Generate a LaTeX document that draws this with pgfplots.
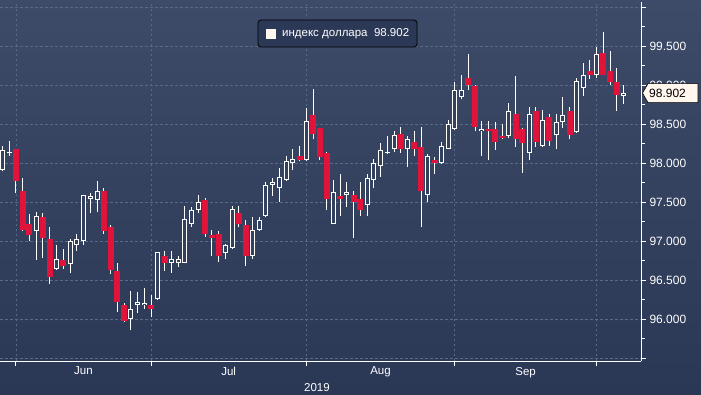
\documentclass[border=0pt]{standalone}
\usepackage{fontspec}
\setmainfont{Liberation Sans}
\usepackage{pgfplots}
\usepackage{pgfplotstable}
\pgfplotsset{compat=1.18}
\definecolor{bgtop}{RGB}{61,75,104}
\definecolor{bgbot}{RGB}{42,56,86}
\definecolor{bgmid}{RGB}{51,65,95}
\definecolor{candred}{RGB}{224,20,58}
\definecolor{gridc}{RGB}{86,106,138}
\definecolor{cream}{RGB}{255,246,238}
\definecolor{legbg}{RGB}{44,57,86}

% up (white) candles: index open high low close
\pgfplotstableread{
i o h l c
0 97.92 98.22 97.90 98.17
1 98.13 98.29 98.10 98.15
5 97.13 97.38 96.76 97.33
8 96.65 96.95 96.63 96.77
10 96.71 97.03 96.59 97.01
11 96.95 97.09 96.88 97.03
12 97.01 97.60 96.95 97.59
13 97.54 97.62 97.36 97.58
14 97.53 97.78 97.38 97.65
19 96.00 96.37 95.86 96.14
20 96.18 96.35 96.08 96.22
21 96.18 96.40 96.14 96.21
23 96.26 96.87 96.25 96.86
25 96.73 96.88 96.60 96.78
26 96.72 96.82 96.67 96.78
27 96.73 97.46 96.72 97.29
28 97.23 97.44 97.18 97.40
29 97.40 97.60 97.37 97.50
33 96.85 96.97 96.77 96.95
34 96.91 97.45 96.90 97.41
37 96.82 97.31 96.77 97.15
38 97.15 97.31 97.14 97.27
39 97.33 97.76 97.31 97.72
40 97.73 97.82 97.58 97.76
41 97.68 97.94 97.51 97.83
42 97.79 98.10 97.77 98.03
43 98.01 98.18 97.91 98.06
45 98.04 98.71 98.03 98.54
49 97.23 97.79 97.22 97.64
51 97.59 97.76 97.44 97.63
54 97.47 97.86 97.33 97.82
55 97.79 98.06 97.68 98.00
56 97.97 98.26 97.83 98.17
57 98.13 98.35 98.12 98.15
58 98.18 98.41 98.15 98.36
60 98.18 98.35 97.96 98.31
63 97.60 98.12 97.50 98.10
65 98.00 98.28 97.99 98.23
66 98.19 98.56 98.18 98.51
67 98.44 99.04 98.43 98.94
68 98.85 99.14 98.82 98.94
71 98.41 98.55 98.10 98.44
75 98.35 98.78 98.32 98.67
78 98.14 98.73 98.05 98.63
80 98.22 98.69 98.21 98.56
82 98.36 98.64 98.18 98.53
83 98.53 98.85 98.46 98.62
85 98.40 99.10 98.39 99.06
86 98.97 99.29 98.87 99.14
88 99.14 99.49 99.09 99.40
92 98.87 99.01 98.76 98.902
}\upT

% down (red) candles: index open high low close
\pgfplotstableread{
i o h l c
2 98.18 98.19 97.62 97.77
3 97.65 97.82 97.13 97.15
4 97.22 97.35 97.00 97.08
6 97.31 97.36 96.79 97.04
7 97.03 97.19 96.46 96.55
9 96.76 96.90 96.65 96.69
15 97.65 97.69 97.10 97.13
16 97.19 97.21 96.58 96.64
17 96.62 96.72 96.10 96.23
18 96.19 96.21 95.97 95.98
22 96.19 96.31 96.03 96.13
24 96.82 96.88 96.62 96.72
30 97.53 97.56 97.06 97.10
31 97.08 97.15 96.82 97.05
32 97.09 97.13 96.74 96.81
35 97.37 97.46 97.18 97.22
36 97.21 97.27 96.69 96.81
44 98.10 98.22 98.03 98.05
46 98.62 98.95 98.31 98.38
47 98.45 98.46 98.05 98.08
48 98.13 98.15 97.40 97.54
50 97.58 97.87 97.33 97.54
52 97.59 97.65 97.04 97.50
53 97.55 97.76 97.33 97.40
59 98.38 98.47 98.14 98.19
61 98.27 98.41 98.10 98.18
62 98.21 98.47 97.18 97.65
64 98.05 98.08 97.87 98.00
69 99.10 99.40 98.94 99.01
70 98.99 99.00 98.42 98.47
72 98.44 98.54 98.04 98.41
73 98.44 98.53 98.17 98.28
74 98.35 98.50 98.31 98.32
76 98.64 99.12 98.21 98.31
77 98.44 98.45 97.88 98.26
79 98.67 98.73 98.21 98.28
81 98.59 98.64 98.23 98.29
84 98.67 98.73 98.31 98.36
87 99.19 99.33 99.08 99.13
89 99.42 99.69 99.13 99.14
90 99.19 99.44 99.00 99.04
91 99.05 99.22 98.67 98.88
}\dnT

\pgfplotsset{
  candle/.style={only marks, mark=*, mark size=0pt,
    mark options={draw=none, fill=none}, forget plot,
    error bars/.cd, y dir=plus, y explicit, error mark=none,
    error bar style={solid, draw opacity=1, #1}},
}

\begin{document}
\begin{tikzpicture}[x=1pt,y=1pt]
\shade[top color=bgtop, bottom color=bgbot] (0,0) rectangle (701,395);
\begin{scope}[overlay]
\begin{axis}[
  at={(0,43)}, anchor=south west, scale only axis,
  width=641pt, height=359pt,
  xmin=-0.37, xmax=94.59, ymin=95.462, ymax=100.064,
  axis x line*=bottom, axis y line*=right,
  axis line style={-, white, line width=1pt},
  grid=major,
  major grid style={gridc, dash pattern=on 2.5pt off 2.5pt, line width=0.8pt},
  xtick={2,22,45,67,88}, xticklabels={},
  extra x ticks={12,33.5,56,77.5},
  extra x tick labels={Jun,Jul,Aug,Sep},
  extra x tick style={grid=none, major tick length=0pt,
     xticklabel style={yshift=-2pt}},
  ytick={96,96.5,97,97.5,98,98.5,99,99.5},
  extra y ticks={95.5,100}, extra y tick labels={\empty,\empty},
  extra y tick style={grid=major},
  minor ytick={95.75,96.25,96.75,97.25,97.75,98.25,98.75,99.25,99.75},
  yticklabel pos=right,
  tick align=outside,
  major tick length=5pt, minor tick length=4pt,
  tick style={white, line width=1pt},
  /pgf/number format/assume math mode=true,
  yticklabel style={/pgf/number format/fixed, /pgf/number format/fixed zerofill,
     /pgf/number format/precision=3, text=white,
     font=\fontsize{12}{14}\selectfont},
  xticklabel style={text=white, font=\fontsize{11.5}{13}\selectfont},
  xlabel={2019},
  xlabel style={at={(axis description cs:0.4945,0)}, anchor=north, yshift=-18pt,
     text=white, font=\fontsize{11.5}{13}\selectfont},
  clip=false,
]
% wicks
\addplot[candle={line width=1pt, white}] table[x=i, y=l, y error expr=\thisrow{h}-\thisrow{l}] \upT;
\addplot[candle={line width=1pt, white}] table[x=i, y=l, y error expr=\thisrow{h}-\thisrow{l}] \dnT;
% red bodies
\addplot[candle={line width=6pt, candred}] table[x=i, y=c, y error expr=\thisrow{o}-\thisrow{c}] \dnT;
% hollow white bodies
\addplot[candle={line width=5pt, white}] table[x=i, y=o, y error expr=\thisrow{c}-\thisrow{o}] \upT;
\addplot[candle={line width=3pt, bgmid}] table[x=i, y expr=\thisrow{o}+0.0128, y error expr={max(\thisrow{c}-\thisrow{o}-0.0256,0)}] \upT;
\coordinate (lv) at (axis cs:94.59,98.902);
\end{axis}
% legend box
\draw[black, line width=0.8pt, fill=legbg, rounded corners=3pt] (258,348) rectangle (417,375);
\fill[cream] (266,356) rectangle (276,366);
\node[anchor=west, inner sep=1pt, text=white, font=\fontsize{11.5}{13}\selectfont] at (281,361.5) {индекс доллара\ \ 98.902};
% last value marker
\draw[black, line width=0.6pt, fill=cream] (lv) ++(1.5,0) -- ++(5.5,9.5) -- ++(50,0) -- ++(0,-19) -- ++(-50,0) -- cycle;
\node[anchor=west, inner sep=0pt, text=black, font=\fontsize{12}{14}\selectfont] at ([xshift=8pt]lv) {98.902};
\end{scope}
\end{tikzpicture}
\end{document}
